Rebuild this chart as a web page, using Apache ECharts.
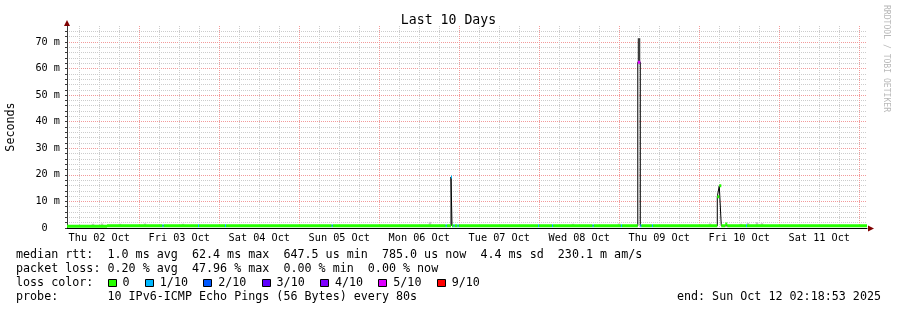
<!DOCTYPE html>
<html><head><meta charset="utf-8">
<script src="https://cdn.jsdelivr.net/npm/echarts@6/dist/echarts.min.js"></script>
<style>html,body{margin:0;padding:0;background:#fff}#c{width:897px;height:310px}</style>
</head><body><div id="c"></div>
<script>
// ---------------- data ----------------
const titleText = 'Last 10 Days';
const yAxisName = 'Seconds';
const watermark = 'RRDTOOL / TOBI OETIKER';
const rangeStart = '2025-10-02 02:18:53';
const rangeEnd = '2025-10-12 02:18:53';
const yMaxMs = 76;
const dayLabels = ['Thu 02 Oct','Fri 03 Oct','Sat 04 Oct','Sun 05 Oct','Mon 06 Oct','Tue 07 Oct','Wed 08 Oct','Thu 09 Oct','Fri 10 Oct','Sat 11 Oct'];

// median rtt, stepwise: each value holds from its time until the next time
const medianTimes = [
  '2025-10-02 02:18:53','2025-10-02 14:20',
  '2025-10-03 06:58','2025-10-03 07:16','2025-10-03 17:37','2025-10-03 17:55',
  '2025-10-04 01:43','2025-10-04 02:01',
  '2025-10-05 09:43','2025-10-05 10:01',
  '2025-10-06 19:56','2025-10-06 20:14','2025-10-06 21:31','2025-10-06 21:49',
  '2025-10-06 22:17','2025-10-06 22:35','2025-10-06 23:29','2025-10-06 23:47',
  '2025-10-07 23:38','2025-10-07 23:56',
  '2025-10-08 03:50','2025-10-08 04:08','2025-10-08 16:00','2025-10-08 16:18',
  '2025-10-09 00:30','2025-10-09 00:48','2025-10-09 05:33','2025-10-09 06:18','2025-10-09 06:36',
  '2025-10-09 09:48','2025-10-09 10:06',
  '2025-10-10 05:24','2025-10-10 06:00','2025-10-10 06:36','2025-10-10 07:48','2025-10-10 08:24',
  '2025-10-10 14:00','2025-10-10 14:18',
  '2025-10-12 02:18:53'
];
const medianMs = [
  0.65, 0.8,
  0.8, 0.8, 0.8, 0.8,
  0.8, 0.8,
  0.8, 0.8,
  0.8, 0.8, 19.2, 0.8,
  0.8, 0.8, 0.8, 0.8,
  0.8, 0.8,
  0.8, 0.8, 0.8, 0.8,
  0.8, 0.8, 62.4, 0.8, 0.8,
  0.8, 0.8,
  11.8, 15.9, 0.8, 1.5, 0.8,
  0.8, 0.8,
  0.8
];
// packet loss in tenths for each step
const medianLoss = [
  0, 0,
  1, 0, 1, 0,
  1, 0,
  1, 0,
  1, 0, 1, 0,
  1, 0, 1, 0,
  1, 0,
  1, 0, 1, 0,
  1, 0, 5, 1, 0,
  1, 0,
  0, 0, 0, 0, 0,
  1, 0,
  0
];

// smoke: spread of the individual pings
const smokeTimes = ['2025-10-02 10:07','2025-10-02 12:49','2025-10-02 18:13','2025-10-03 01:43','2025-10-03 13:07',
  '2025-10-06 15:13','2025-10-08 10:07','2025-10-08 23:55','2025-10-09 05:55',
  '2025-10-10 03:13','2025-10-10 12:31','2025-10-10 14:37','2025-10-10 17:19','2025-10-10 18:49'];
const smokeLowMs =  [0.9, 0.9, 0.9, 0.9, 0.9, 0.9, 0.9, 0.9, 62.4, 0.9, 0.9, 0.9, 0.9, 0.9];
const smokeHighMs = [1.6, 1.7, 1.6, 1.7, 1.6, 2.3, 1.6, 1.7, 71.4, 1.7, 1.6, 1.9, 2.2, 1.8];

const lossBuckets = [0, 1, 2, 3, 4, 5, 9];
const lossLabels = ['0', '1/10', '2/10', '3/10', '4/10', '5/10', '9/10'];

const statLines = [
  'median rtt:  1.0 ms avg  62.4 ms max  647.5 us min  785.0 us now  4.4 ms sd  230.1 m am/s',
  'packet loss: 0.20 % avg  47.96 % max  0.00 % min  0.00 % now'
];
const lossTitle = 'loss color:';
const probeLine = 'probe:       10 IPv6-ICMP Echo Pings (56 Bytes) every 80s';
const endLine = 'end: Sun Oct 12 02:18:53 2025';

// ---------------- styles / layout ----------------
const lossColors = ['#26ff00', '#00b8ff', '#0059ff', '#5e00ff', '#7e00ff', '#dd00ff', '#ff0000'];
const FONT = 'DejaVu Sans Mono';
const G = {left: 67, top: 26, width: 800, height: 202};
const gridGray = '#cccccc', gridRed = '#f29a9a', arrowColor = '#7f0000', axisColor = '#3a3a3a';

function toH(s) {
  const m = s.match(/(\d+)-(\d+)-(\d+) (\d+):(\d+)(?::(\d+))?/);
  return (Date.UTC(+m[1], +m[2] - 1, +m[3], +m[4], +m[5], +(m[6] || 0)) - Date.UTC(2025, 9, 2)) / 3600000;
}
const t0 = toH(rangeStart), t1 = toH(rangeEnd);
const mT = medianTimes.map(toH);
const medianData = mT.map((t, i) => [t, medianMs[i]]);
const lossSeries = lossBuckets.map((b, k) => {
  const d = [];
  for (let i = 0; i < mT.length - 1; i++) {
    if (medianLoss[i] === b) d.push([mT[i], medianMs[i]], [mT[i + 1], medianMs[i]], [mT[i + 1], null]);
  }
  return {type: 'line', name: lossLabels[k], data: d, symbol: 'none', showSymbol: false, connectNulls: false,
    lineStyle: {color: lossColors[k], width: 3, cap: 'butt'}, z: 5, silent: true, animation: false};
});
const sT = smokeTimes.map(toH);

// grid tick positions: 6-hourly lines (daily ones major), labels at noon
const xTicks = [], noonTicks = [], xLineColors = [];
for (let h = Math.ceil(t0 / 6) * 6; h < t1; h += 6) {
  xTicks.push(h);
  xLineColors.push(h % 24 === 0 ? gridRed : gridGray);
  if (h % 24 === 12) noonTicks.push(h);
}
const yTicks = [], yMajor = [], yLineColors = [];
for (let v = 0; v < yMaxMs; v += 2) {
  yTicks.push(v);
  yLineColors.push(v % 10 === 0 ? gridRed : gridGray);
  if (v % 10 === 0) yMajor.push(v);
}

const chart = echarts.init(document.getElementById('c'), null, {renderer: 'canvas'});

const cw = 11.7 * 0.602;
const gfx = [];
gfx.push({type: 'text', x: 448.5, y: 20.5, style: {text: titleText, font: '13.2px "' + FONT + '"', fill: '#000', align: 'center', verticalAlign: 'middle'}});
gfx.push({type: 'text', x: 11, y: 127, rotation: Math.PI / 2, style: {text: yAxisName, font: '11.7px "' + FONT + '"', fill: '#000', align: 'center', verticalAlign: 'middle'}});
gfx.push({type: 'text', x: 886, y: 58.5, rotation: -Math.PI / 2, style: {text: watermark, font: '8.1px "' + FONT + '"', fill: '#b8b8b8', align: 'center', verticalAlign: 'middle'}});
gfx.push({type: 'polygon', shape: {points: [[G.left - 3, G.top], [G.left + 3, G.top], [G.left, G.top - 6]]}, style: {fill: arrowColor}, z: 10});
gfx.push({type: 'polygon', shape: {points: [[G.left + G.width + 1, G.top + G.height - 2.5], [G.left + G.width + 1, G.top + G.height + 3.5], [G.left + G.width + 7, G.top + G.height + 0.5]]}, style: {fill: arrowColor}, z: 10});
const rowY = [255, 269, 283, 297];
statLines.forEach((s, i) => gfx.push({type: 'text', x: 16, y: rowY[i], style: {text: s, font: '11.7px "' + FONT + '"', fill: '#000', verticalAlign: 'middle'}}));
gfx.push({type: 'text', x: 16, y: rowY[2], style: {text: lossTitle, font: '11.7px "' + FONT + '"', fill: '#000', verticalAlign: 'middle'}});
let cur = 16 + 13 * cw;
lossLabels.forEach((lab, k) => {
  gfx.push({type: 'rect', shape: {x: Math.round(cur) + 0.5, y: Math.round(rowY[2] - 4.5) + 0.5, width: 8, height: 7}, style: {fill: lossColors[k], stroke: '#000', lineWidth: 1}});
  gfx.push({type: 'text', x: cur + 15, y: rowY[2], style: {text: lab, font: '11.7px "' + FONT + '"', fill: '#000', verticalAlign: 'middle'}});
  cur = cur + 15 + lab.length * cw + 15.2;
});
gfx.push({type: 'text', x: 16, y: rowY[3], style: {text: probeLine, font: '11.7px "' + FONT + '"', fill: '#000', verticalAlign: 'middle'}});
gfx.push({type: 'text', x: 881, y: rowY[3], style: {text: endLine, font: '11.7px "' + FONT + '"', fill: '#000', align: 'right', verticalAlign: 'middle'}});

const axisFont = {fontFamily: FONT, fontSize: 10.2, color: '#000'};

chart.setOption({
  animation: false,
  backgroundColor: '#fff',
  grid: {left: G.left, top: G.top, width: G.width, height: G.height, containLabel: false, outerBoundsMode: 'none'},
  xAxis: {type: 'value', min: t0, max: t1, position: 'bottom',
    axisLine: {show: true, onZero: false, lineStyle: {color: '#000', width: 1}},
    axisTick: {show: false, customValues: xTicks},
    axisLabel: Object.assign({}, axisFont, {margin: 5, hideOverlap: false, customValues: noonTicks,
      formatter: v => dayLabels[Math.floor(v / 24)] || ''}),
    splitLine: {show: true, lineStyle: {color: xLineColors, type: [1, 1], width: 1}}},
  yAxis: {type: 'value', min: 0, max: yMaxMs,
    axisLine: {show: true, onZero: false, lineStyle: {color: axisColor, width: 1}},
    axisTick: {show: true, length: 2, lineStyle: {color: axisColor}, customValues: yTicks},
    axisLabel: Object.assign({}, axisFont, {margin: 7, customValues: yMajor,
      formatter: v => (v === 0 ? '0  ' : v + ' m')}),
    splitLine: {show: true, lineStyle: {color: yLineColors, type: [1, 1], width: 1}}},
  series: [
    {type: 'custom', name: 'smoke', data: sT.map((t, i) => [t, smokeLowMs[i], smokeHighMs[i]]), silent: true, z: 2,
      renderItem: (params, api) => {
        const lo = api.coord([api.value(0), api.value(1)]);
        const hi = api.coord([api.value(0), api.value(2)]);
        const dark = api.value(2) - api.value(1) > 4;
        return {type: 'rect', shape: {x: lo[0] - 1.25, y: hi[1], width: 2.5, height: lo[1] - hi[1]},
          style: {fill: dark ? '#3c3c3c' : '#c6c6c6'}};
      }},
    {type: 'line', name: 'median', data: medianData, step: 'end', symbol: 'none', showSymbol: false,
      lineStyle: {color: '#000', width: 1}, z: 3, silent: true},
    ...lossSeries
  ],
  graphic: gfx
});
</script>
</body></html>
